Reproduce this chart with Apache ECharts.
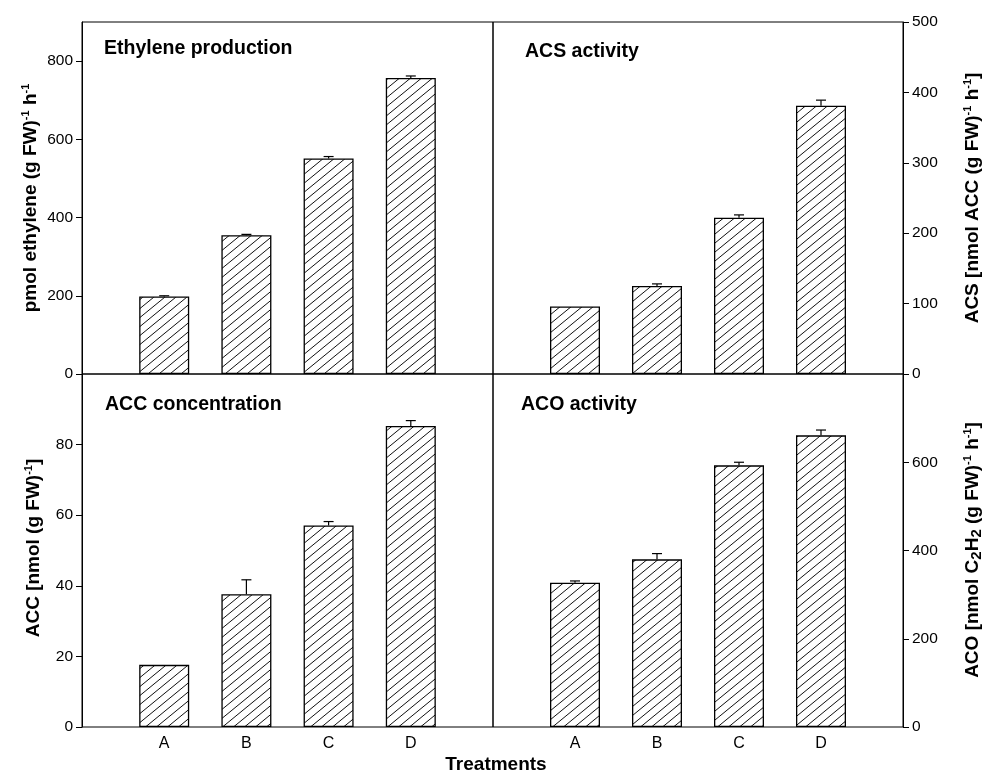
<!DOCTYPE html>
<html><head><meta charset="utf-8">
<script src="https://cdn.jsdelivr.net/npm/echarts@6/dist/echarts.min.js"></script>
<style>html,body{margin:0;padding:0;background:#fff}#c{width:989px;height:774px}</style>
</head><body><div id="c"></div>
<script>
// ---------- data ----------
const categories = ['A', 'B', 'C', 'D'];
const ethylene = [198, 355, 551, 757];
const ethyleneErr = [2, 2, 5, 5];
const acs = [96, 125, 222, 381];
const acsErr = [0, 3, 4, 8];
const acc = [17.6, 37.6, 57.1, 85.3];
const accErr = [0, 4.1, 1.1, 1.5];
const aco = [327, 380, 593, 661];
const acoErr = [4, 13, 7, 12];
const ticksEthylene = [0, 900, 200];
const ticksAcs = [0, 500, 100];
const ticksAcc = [0, 100, 20];
const ticksAco = [0, 800, 200];

// ---------- style ----------
const FONT = 'Liberation Sans, Arial, Helvetica, sans-serif';

function hatch() {
  const w = 11, h = 9;
  const c = document.createElement('canvas');
  c.width = w; c.height = h;
  const g = c.getContext('2d');
  g.fillStyle = '#fff'; g.fillRect(0, 0, w, h);
  g.strokeStyle = '#111'; g.lineWidth = 1;
  g.beginPath();
  for (let k = -1; k <= 1; k++) {
    g.moveTo(-w, 2 * h + k * h); g.lineTo(2 * w, -h + k * h);
  }
  g.stroke();
  return c;
}
const pattern = { image: hatch(), repeat: 'repeat' };

const grids = [
  { left: 82, top: 22, width: 411, height: 352 },
  { left: 493, top: 22, width: 410, height: 352 },
  { left: 82, top: 374, width: 411, height: 353 },
  { left: 493, top: 374, width: 410, height: 353 }
].map(g => Object.assign(g, { show: true, borderColor: '#000', borderWidth: 1, backgroundColor: 'transparent' }));

function xAxis(i, showLabels) {
  return {
    type: 'value', gridIndex: i, min: 0, max: 5, interval: 1,
    axisLine: { show: false, onZero: false }, axisTick: { show: false }, splitLine: { show: false },
    axisLabel: {
      show: showLabels, margin: 9, color: '#000', fontFamily: FONT, fontSize: 16,
      formatter: v => categories[v - 1] || ''
    }
  };
}
function yAxis(i, t, pos, hideMax) {
  return {
    type: 'value', gridIndex: i, position: pos, min: t[0], max: t[1], interval: t[2],
    axisLine: { show: true, onZero: false, lineStyle: { color: '#000', width: 1 } },
    axisTick: { show: true, inside: false, length: 6, lineStyle: { color: '#000' } },
    splitLine: { show: false },
    axisLabel: {
      color: '#000', fontFamily: FONT, fontSize: 15.5, margin: 9,
      showMaxLabel: !hideMax, showMinLabel: true
    }
  };
}

function pairs(vals) { return vals.map((v, k) => [k + 1, v]); }
function triples(vals, errs) { return vals.map((v, k) => [k + 1, v, errs[k]]); }

function barSeries(i, vals) {
  return {
    type: 'bar', xAxisIndex: i, yAxisIndex: i, barWidth: 50,
    data: pairs(vals), z: 2,
    itemStyle: { color: pattern, borderColor: '#000', borderWidth: 1.3 },
    emphasis: { disabled: true }, silent: true
  };
}
function errRender(params, api) {
  const x = api.value(0), v = api.value(1), e = api.value(2);
  if (!e) return null;
  const p0 = api.coord([x, v]), p1 = api.coord([x, v + e]);
  const st = { stroke: '#000', lineWidth: 1.2 };
  return {
    type: 'group', children: [
      { type: 'line', shape: { x1: p0[0], y1: p0[1], x2: p1[0], y2: p1[1] }, style: st },
      { type: 'line', shape: { x1: p1[0] - 5, y1: p1[1], x2: p1[0] + 5, y2: p1[1] }, style: st }
    ]
  };
}
function errSeries(i, vals, errs) {
  return {
    type: 'custom', xAxisIndex: i, yAxisIndex: i, z: 5, silent: true,
    renderItem: errRender, data: triples(vals, errs)
  };
}

const boldStyle = { fontFamily: FONT, fontWeight: 'bold', fontSize: 19, fill: '#000' };
const rich = {
  s: { fontFamily: FONT, fontWeight: 'bold', fontSize: 11, verticalAlign: 'top', lineHeight: 10, fill: '#000' },
  b: { fontFamily: FONT, fontWeight: 'bold', fontSize: 15, verticalAlign: 'bottom', lineHeight: 12, fill: '#000' }
};
function label(x, y, text) {
  return { type: 'text', x, y, z: 10, style: Object.assign({ text, align: 'left', verticalAlign: 'middle' }, boldStyle, { fontSize: 19.5 }) };
}
function vlabel(x, y, text) {
  return {
    type: 'text', x, y, rotation: Math.PI / 2, z: 10,
    style: Object.assign({ text, align: 'center', verticalAlign: 'middle', lineHeight: 22, rich }, boldStyle)
  };
}

const option = {
  animation: false,
  backgroundColor: '#fff',
  grid: grids,
  xAxis: [xAxis(0, false), xAxis(1, false), xAxis(2, true), xAxis(3, true)],
  yAxis: [
    yAxis(0, ticksEthylene, 'left', true),
    yAxis(1, ticksAcs, 'right', false),
    yAxis(2, ticksAcc, 'left', true),
    yAxis(3, ticksAco, 'right', true)
  ],
  series: [
    barSeries(0, ethylene), errSeries(0, ethylene, ethyleneErr),
    barSeries(1, acs), errSeries(1, acs, acsErr),
    barSeries(2, acc), errSeries(2, acc, accErr),
    barSeries(3, aco), errSeries(3, aco, acoErr)
  ],
  graphic: [
    label(104, 49, 'Ethylene production'),
    label(525, 52, 'ACS activity'),
    label(105, 405, 'ACC concentration'),
    label(521, 405, 'ACO activity'),
    vlabel(31, 198, 'pmol ethylene (g FW){s|-1} h{s|-1}'),
    vlabel(34, 548, 'ACC [nmol (g FW){s|-1}]'),
    vlabel(973, 198, 'ACS [nmol ACC (g FW){s|-1} h{s|-1}]'),
    vlabel(973, 550, 'ACO [nmol C{b|2}H{b|2} (g FW){s|-1} h{s|-1}]'),
    { type: 'text', x: 496, y: 765, z: 10, style: Object.assign({ text: 'Treatments', align: 'center', verticalAlign: 'middle' }, boldStyle) }
  ]
};

const chart = echarts.init(document.getElementById('c'), null, { renderer: 'canvas' });
chart.setOption(option);
</script>
</body></html>
